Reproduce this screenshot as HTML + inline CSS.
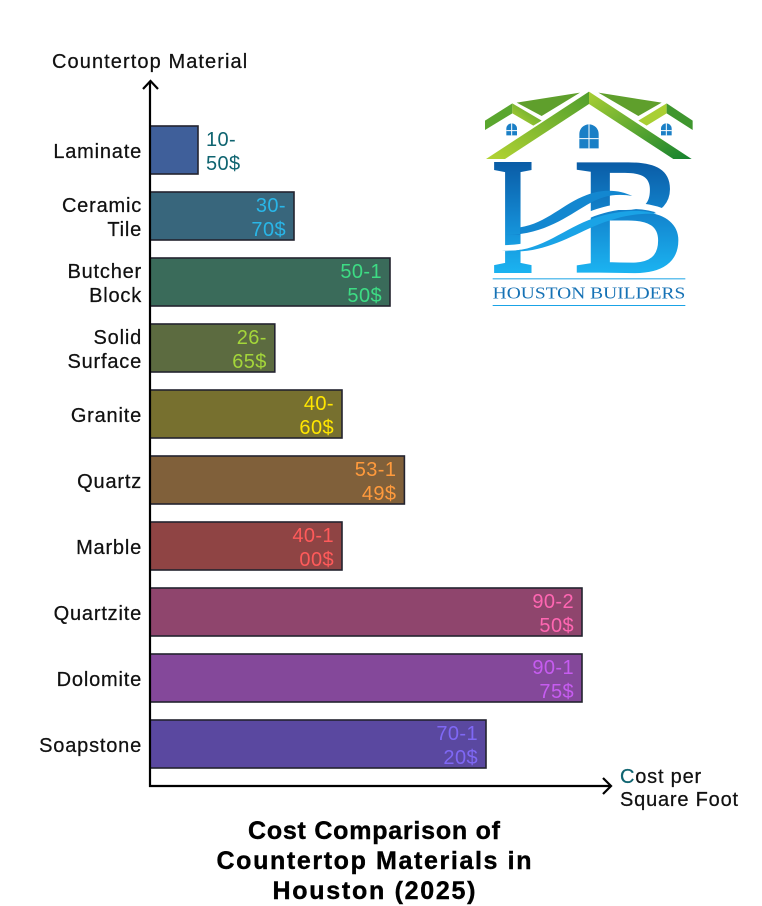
<!DOCTYPE html>
<html lang="en">
<head>
<meta charset="utf-8">
<title>Cost Comparison of Countertop Materials in Houston (2025)</title>
<style>
html,body{margin:0;padding:0;background:#fff;}
body{width:762px;height:906px;overflow:hidden;}
#chart{display:block;font-family:"Liberation Sans",sans-serif;}
.lab{font-size:20px;fill:#111;letter-spacing:.8px;stroke:#111;stroke-width:.25px;}
.val{font-size:20px;letter-spacing:.4px;}
.ttl{font-size:25px;font-weight:700;fill:#000;text-anchor:middle;stroke:#000;stroke-width:.4px;}
</style>
</head>
<body>
<svg id="chart" width="762" height="906" viewBox="0 0 762 906" xmlns="http://www.w3.org/2000/svg">
  <defs>
    <linearGradient id="blue" gradientUnits="userSpaceOnUse" x1="0" y1="-325" x2="0" y2="0">
      <stop offset="0" stop-color="#0a5ca6"/><stop offset=".5" stop-color="#1386cf"/><stop offset="1" stop-color="#1bb2f0"/>
    </linearGradient>
    <linearGradient id="gl" x1="0" y1="1" x2="1" y2="0">
      <stop offset="0" stop-color="#b4d433"/><stop offset="1" stop-color="#4f9e2d"/>
    </linearGradient>
    <linearGradient id="gr" x1="0" y1="0" x2="1" y2="1">
      <stop offset="0" stop-color="#a9cf33"/><stop offset="1" stop-color="#13812f"/>
    </linearGradient>
  </defs>

  <g id="bars"></g>
  <g id="cats"></g>
  <g id="vals"></g>

  <g fill="none" stroke="#000" stroke-width="2.2">
    <path d="M150 787V81"/>
    <path d="M143 89L150.500 81L158 89"/>
    <path d="M149 786H610"/>
    <path d="M603 778L611 786L603 794"/>
  </g>

  <text class="lab" x="52" y="68" textLength="196">Countertop Material</text>
  <text class="lab" x="620" y="783"><tspan fill="#0f6470" stroke="#0f6470">C</tspan>ost per<tspan x="620" y="806">Square Foot</tspan></text>

  <g>
    <text class="ttl" x="374" y="839" textLength="252">Cost Comparison of</text>
    <text class="ttl" x="374" y="869" textLength="315">Countertop Materials in</text>
    <text class="ttl" x="374" y="899" textLength="203">Houston (2025)</text>
  </g>

  <svg x="470" y="80" width="240" height="240" viewBox="0 0 720 720">
    <g>
      <polygon points="140,68 330,38 215,108" fill="#5f9f2c"/>
      <polygon points="385,38 575,68 505,108" fill="#5f9f2c"/>
      <polygon points="45,122 127,70 127,100 45,150" fill="#5aa62e"/>
      <polygon points="127,70 215,122 190,137 127,100" fill="url(#gl)"/>
      <polygon points="590,70 505,122 530,137 590,100" fill="#a9cf33"/>
      <polygon points="590,70 668,122 668,150 590,100" fill="#3f962e"/>
      <polygon points="357,35 48,237 105,237 357,72" fill="url(#gl)"/>
      <polygon points="357,35 665,237 610,237 357,72" fill="url(#gr)"/>
    </g>
    <g fill="#1a7fc6">
      <path d="M109 146a16 16 0 0 1 32 0v20h-32z"/>
      <path d="M573 146a16 16 0 0 1 32 0v20h-32z"/>
      <path d="M328 165v-3a29 29 0 0 1 58 0v43h-58z"/>
      <path d="M125 130v36M109 152h32M589 130v36M573 152h32M357 133v72M328 176h58" stroke="#fff" stroke-width="3" fill="none"/>
    </g>
    <g>
      <text transform="translate(63 573) scale(.8 1)" font-family="'Liberation Serif',serif" font-size="490" fill="url(#blue)" stroke="url(#blue)" stroke-width="12">I</text>
      <text transform="translate(311 573) scale(1.02 1)" font-family="'Liberation Serif',serif" font-size="490" fill="url(#blue)" stroke="url(#blue)" stroke-width="10">B</text>
      <path d="M150 442C230 430 280 370 350 345C400 325 450 330 487 348C440 340 400 345 350 375C290 410 220 465 105 465L150 465Z" fill="#1387d0"/>
      <path d="M60 500C200 525 280 435 370 400C440 375 510 368 580 395" fill="none" stroke="#fff" stroke-width="18"/>
      <path d="M95 510C200 525 280 445 370 415C440 392 510 385 560 402C500 398 440 410 370 440C290 475 200 530 95 510Z" fill="#1aa3e6"/>
    </g>
    <rect x="68" y="595" width="578" height="3" fill="#1aa3e6"/>
    <text x="357" y="656" text-anchor="middle" font-family="'Liberation Serif',serif" font-size="52" fill="#1672b5" textLength="578" lengthAdjust="spacingAndGlyphs">HOUSTON BUILDERS</text>
    <rect x="68" y="675" width="578" height="3" fill="#1aa3e6"/>
  </svg>
</svg>
<script>
const categories = ["Laminate","Ceramic Tile","Butcher Block","Solid Surface","Granite","Quartz","Marble","Quartzite","Dolomite","Soapstone"];
const lowCost = [10,30,50,26,40,53,40,90,90,70];
const highCost = [50,70,150,65,60,149,100,250,175,120];
const barColors = ["#3f5f9a","#38667c","#3a6b5a","#5c6b40","#77702f","#80603a","#8f4444","#8f456d","#84489a","#5a48a0"];
const valueColors = ["#0f6470","#29b6e8","#3ddc84","#a4d63a","#ffe600","#ff9a3c","#ff5a5a","#ff66b2","#c65cf0","#7f68f5"];

const NS = "http://www.w3.org/2000/svg";
const x0 = 150, pxPerUnit = 4.8, top0 = 126, band = 66, barH = 48;
const xScale = v => x0 + v * pxPerUnit;
const yScale = i => top0 + i * band;

const barsG = document.getElementById("bars");
const catsG = document.getElementById("cats");
const valsG = document.getElementById("vals");

categories.forEach((cat, i) => {
  const y = yScale(i), xEnd = xScale(lowCost[i]);

  const bar = document.createElementNS(NS, "rect");
  
  
  bar.setAttribute("x", x0);
  bar.setAttribute("y", y);
  bar.setAttribute("width", xEnd - x0);
  bar.setAttribute("height", barH);
  bar.setAttribute("fill", barColors[i]);
  bar.setAttribute("stroke", "#23232f");
  bar.setAttribute("stroke-width", "1.6");
  barsG.appendChild(bar);

  const words = cat.split(" ");
  const cy = y + barH / 2;
  words.forEach((w, k) => {
    const t = document.createElementNS(NS, "text");
    
    
    t.setAttribute("class", "lab");
    t.setAttribute("x", 142);
    t.setAttribute("y", words.length === 1 ? cy + 8 : cy - 4 + k * 24);
    t.setAttribute("text-anchor", "end");
    t.textContent = w;
    catsG.appendChild(t);
  });

  const label = lowCost[i] + "-" + highCost[i] + "$";
  const cut = label.length - 3;
  const lines = [label.slice(0, cut), label.slice(cut)];
  const outside = xEnd - x0 < 60;
  lines.forEach((line, k) => {
    const t = document.createElementNS(NS, "text");
    
    
    t.setAttribute("class", "val");
    t.setAttribute("x", outside ? xEnd + 8 : xEnd - 8);
    t.setAttribute("y", y + 20 + k * 24);
    t.setAttribute("text-anchor", outside ? "start" : "end");
    t.setAttribute("fill", valueColors[i]);
    t.textContent = line;
    valsG.appendChild(t);
  });
});
</script>
</body>
</html>
